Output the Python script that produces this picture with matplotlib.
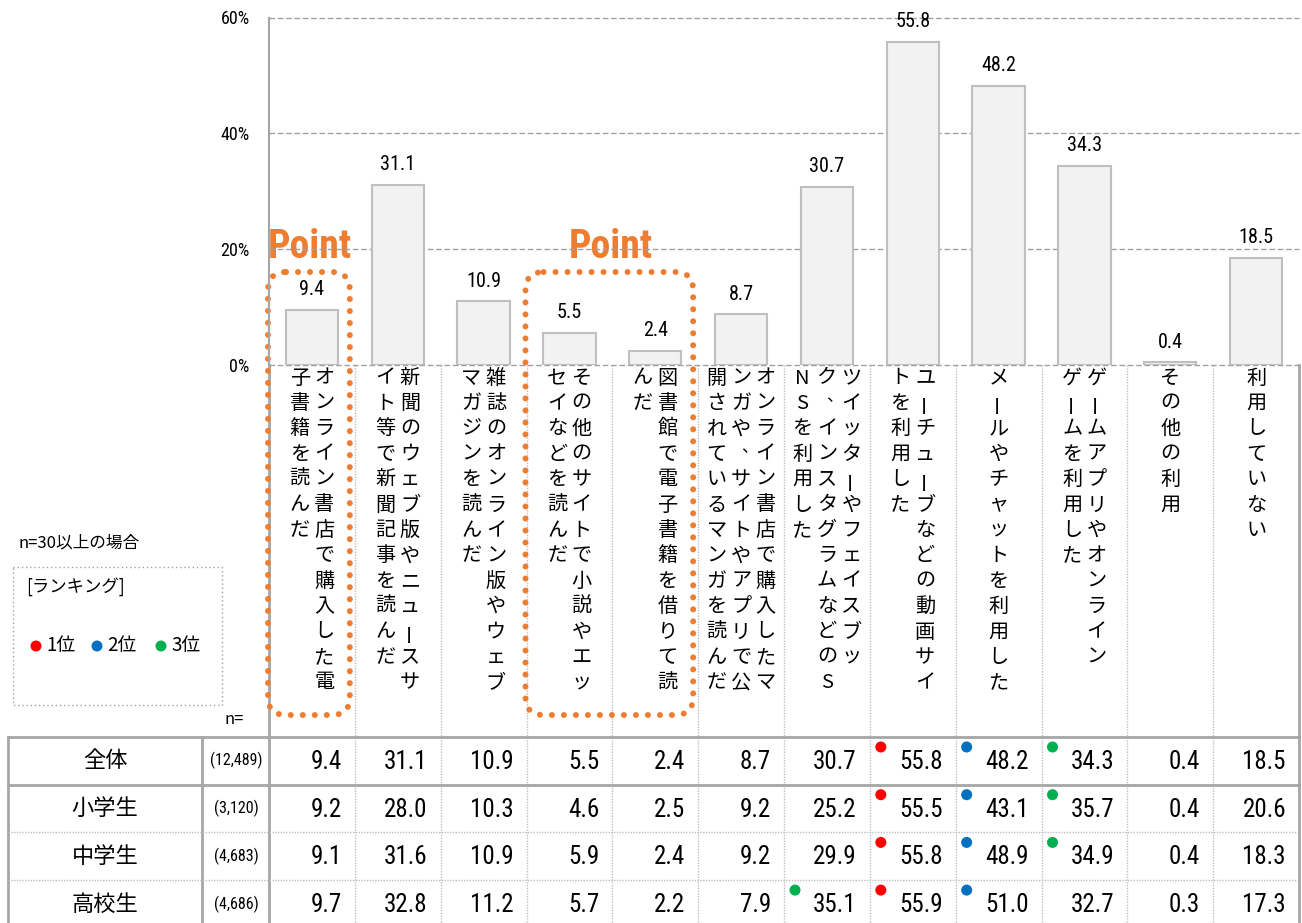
import matplotlib
matplotlib.use('Agg')
import matplotlib.pyplot as plt
from matplotlib import font_manager as fm
from matplotlib.font_manager import FontProperties
from matplotlib.patches import FancyBboxPatch, Rectangle, Circle

JP = 'Noto Sans CJK JP'
plt.rcParams['font.family'] = [JP, 'DejaVu Sans']


def _is_bold(f):
    w = f.weight
    if isinstance(w, str):
        return w in ('bold', 'heavy', 'black', 'extra bold', 'demibold', 'semibold')
    return w >= 600


def _narrow_file(bold):
    prefs = ['Liberation Sans Narrow', 'Roboto Condensed', 'Open Sans Condensed',
             'Noto Sans', 'DejaVu Sans', 'Open Sans', 'Roboto']
    best = None
    for f in fm.fontManager.ttflist:
        st = str(f.stretch)
        narrow = ('Narrow' in f.name or 'Condensed' in f.name or
                  st in ('condensed', 'semi-condensed', 'extra-condensed') or
                  'Condensed' in f.fname or 'Narrow' in f.fname)
        if not narrow or f.style != 'normal' or _is_bold(f) != bold:
            continue
        if 'Italic' in f.fname or 'Oblique' in f.fname:
            continue
        rank = next((k for k, p in enumerate(prefs) if f.name.startswith(p)), len(prefs))
        if best is None or rank < best[0]:
            best = (rank, f.fname)
    return best[1] if best else None


_NF = _narrow_file(False)
_NFB = _narrow_file(True)


def nfp(size, bold=False):
    fn = _NFB if bold else _NF
    if fn:
        return FontProperties(fname=fn, size=size)
    return FontProperties(family='Liberation Sans', size=size,
                          weight='bold' if bold else 'normal')


# ---------------- data ----------------
label_columns = [
    ["オンライン書店で購入した電", "子書籍を読んだ"],
    ["新聞のウェブ版やニュースサ", "イト等で新聞記事を読んだ"],
    ["雑誌のオンライン版やウェブ", "マガジンを読んだ"],
    ["その他のサイトで小説やエッ", "セイなどを読んだ"],
    ["図書館で電子書籍を借りて読", "んだ"],
    ["オンライン書店で購入したマ", "ンガや、サイトやアプリで公", "開されているマンガを読んだ"],
    ["ツイッターやフェイスブッ", "ク、インスタグラムなどのS", "NSを利用した"],
    ["ユーチューブなどの動画サイ", "トを利用した"],
    ["メールやチャットを利用した"],
    ["ゲームアプリやオンライン", "ゲームを利用した"],
    ["その他の利用"],
    ["利用していない"],
]
total = [9.4, 31.1, 10.9, 5.5, 2.4, 8.7, 30.7, 55.8, 48.2, 34.3, 0.4, 18.5]
groups = ["全体", "小学生", "中学生", "高校生"]
group_n = ["(12,489)", "(3,120)", "(4,683)", "(4,686)"]
table_values = [
    [9.4, 31.1, 10.9, 5.5, 2.4, 8.7, 30.7, 55.8, 48.2, 34.3, 0.4, 18.5],
    [9.2, 28.0, 10.3, 4.6, 2.5, 9.2, 25.2, 55.5, 43.1, 35.7, 0.4, 20.6],
    [9.1, 31.6, 10.9, 5.9, 2.4, 9.2, 29.9, 55.8, 48.9, 34.9, 0.4, 18.3],
    [9.7, 32.8, 11.2, 5.7, 2.2, 7.9, 35.1, 55.9, 51.0, 32.7, 0.3, 17.3],
]
yticks = [0, 20, 40, 60]
ytick_labels = ["0%", "20%", "40%", "60%"]
highlight_groups = [[0], [3, 4]]
rank_colors = ["#FF0000", "#0070C0", "#00B050"]
rank_labels = ["1位", "2位", "3位"]

# ---------------- layout (pixels) ----------------
W, H = 1302, 923
X0, X1 = 269, 1299
N = len(total)
CW = (X1 - X0) / N
Y_TOP, Y_ZERO = 17.5, 364.5
T0 = 737
RH = 47.7
GRAY = "#A6A6A6"
LGRAY = "#BFBFBF"
ORANGE = "#ED7D31"

fig = plt.figure(figsize=(W / 100, H / 100), dpi=100)

ov = fig.add_axes([0, 0, 1, 1])
ov.set_xlim(0, W)
ov.set_ylim(H, 0)
ov.axis('off')

ax = fig.add_axes([X0 / W, 1 - Y_ZERO / H, (X1 - X0) / W, (Y_ZERO - Y_TOP) / H])
ax.patch.set_visible(False)
ax.set_xlim(-0.5, N - 0.5)
ax.set_ylim(0, 60)
for s in ['top', 'right', 'bottom']:
    ax.spines[s].set_visible(False)
ax.spines['left'].set_color(GRAY)
ax.spines['left'].set_linewidth(1.5)
for t in yticks:
    ax.axhline(t, color="#A0A0A0", lw=1, ls=(0, (4, 2)), zorder=0, clip_on=False)
ax.set_yticks(yticks)
ax.set_yticklabels(ytick_labels, fontproperties=nfp(13))
ax.tick_params(axis='y', length=0, pad=14)
ax.set_xticks([])

ax.bar(range(N), total, width=0.61, color="#F2F2F2", edgecolor=LGRAY, linewidth=1.5, zorder=2)
for i, v in enumerate(total):
    ax.annotate(f"{v:.1f}", (i, v), xytext=(0, 14.5), textcoords='offset points',
                ha='center', va='center', fontproperties=nfp(14.5))

# ---------------- vertical category labels ----------------
PITCH = 25.4
COLSP = 24.5
Y_CHAR0 = 378
for i, cols in enumerate(label_columns):
    cx = X0 + CW * (i + 0.5)
    k = len(cols)
    for j, s in enumerate(cols):
        x = cx + (k - 1) / 2 * COLSP - j * COLSP
        for m, ch in enumerate(s):
            y = Y_CHAR0 + m * PITCH
            if ch == 'ー':
                ov.text(x, y, ch, rotation=90, ha='center', va='center',
                        rotation_mode='anchor', fontsize=14.5)
            elif ch == '、':
                ov.text(x + 8, y - 7, ch, ha='center', va='center', fontsize=12)
            else:
                ov.text(x, y, ch, ha='center', va='center', fontsize=14.5)

# ---------------- grid lines of label area and table ----------------
y_bottom = H + 5
for b in range(1, N):
    xb = X0 + CW * b
    ov.plot([xb, xb], [Y_ZERO, y_bottom], color=LGRAY, lw=1, ls=(0, (1, 1)))
ov.plot([X0, X0], [Y_ZERO, y_bottom], color=GRAY, lw=2)
ov.plot([X1, X1], [Y_ZERO, y_bottom], color=GRAY, lw=2)
ov.plot([8, 8], [T0, y_bottom], color=GRAY, lw=2)
ov.plot([202, 202], [T0, y_bottom], color=GRAY, lw=2)
ov.plot([8, X1], [T0, T0], color=GRAY, lw=2)
ov.plot([8, X1], [T0 + RH, T0 + RH], color=GRAY, lw=2)
for r in (2, 3):
    ov.plot([8, X1], [T0 + RH * r, T0 + RH * r], color=LGRAY, lw=1, ls=(0, (1, 1)))

# ---------------- table ----------------
for r, (g, n, vals) in enumerate(zip(groups, group_n, table_values)):
    yc = T0 + RH * (r + 0.5)
    ov.text(105, yc, g, ha='center', va='center', fontsize=16)
    ov.text(236, yc, n, ha='center', va='center', fontproperties=nfp(11.5))
    order = sorted(range(N), key=lambda c: -vals[c])[:3]
    for c, v in enumerate(vals):
        ov.text(X0 + CW * (c + 1) - 13, yc + 1, f"{v:.1f}", ha='right', va='center',
                fontproperties=nfp(18))
    for rk, c in enumerate(order):
        ov.add_patch(Circle((X0 + CW * c + 11, T0 + RH * r + 10), 5.5,
                            color=rank_colors[rk], lw=0, zorder=5))

ov.text(225, 719, "n=", ha='left', va='center', fontsize=12)

# ---------------- legend ----------------
ov.text(18, 543, "n=30以上の場合", ha='left', va='center', fontsize=12)
ov.add_patch(Rectangle((13, 567), 209, 138, fill=False, edgecolor="#A0A0A0",
                       lw=1, ls=(0, (1, 2))))
ov.text(26, 587, "[ランキング]", ha='left', va='center', fontsize=12.5)
for k, (cx, lab) in enumerate(zip([36, 97, 161], rank_labels)):
    ov.add_patch(Circle((cx, 646), 5.5, color=rank_colors[k], lw=0))
    ov.text(cx + 10, 646, lab, ha='left', va='center', fontsize=13.5)

# ---------------- highlight boxes ----------------
point_texts = []
for grp in highlight_groups:
    left = X0 + CW * grp[0] - 1
    right = X0 + CW * (grp[-1] + 1) - 5
    box = FancyBboxPatch((left, 272), right - left, 443,
                         boxstyle='round,pad=0,rounding_size=18',
                         fill=False, edgecolor=ORANGE, lw=4.3,
                         ls=(0, (0.01, 2.0)), capstyle='round', zorder=6)
    ov.add_patch(box)
    cxp = (left + right) / 2 + 1
    t = ov.text(cxp, 258, "Point", ha='center', va='baseline', color=ORANGE,
                fontproperties=nfp(30, bold=True), zorder=7)
    point_texts.append(t)

fig.canvas.draw()
renderer = fig.canvas.get_renderer()
for t in point_texts:
    w = t.get_window_extent(renderer).width
    t.set_fontsize(30 * 84 / w)

fig.savefig("out.png", dpi=100)
